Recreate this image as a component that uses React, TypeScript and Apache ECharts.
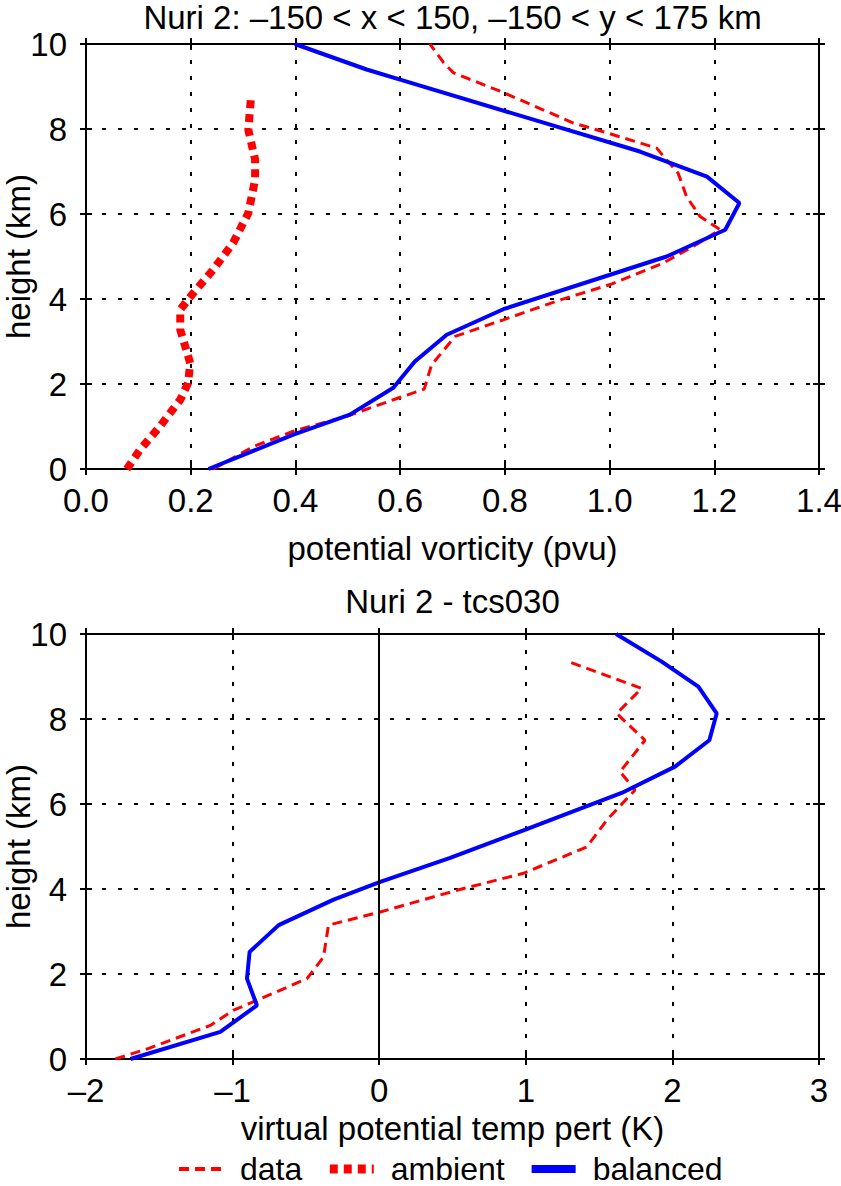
import React, { useEffect, useRef } from 'react';
import * as echarts from 'echarts';

const FONT = '"Liberation Sans", Arial, Helvetica, sans-serif';
const FS = 33;

// ---- Panel 1: potential vorticity (pvu) vs height (km)
const pvDataX = [0.243, 0.32, 0.396, 0.498, 0.587, 0.646, 0.66, 0.705, 0.797, 0.906, 1.001, 1.103, 1.16, 1.211, 1.173, 1.147, 1.131, 1.103, 1.09, 0.995, 0.931, 0.791, 0.702, 0.683, 0.657];
const pvDataH = [0, 0.53, 0.89, 1.24, 1.63, 1.88, 2.45, 3.12, 3.51, 3.98, 4.34, 4.85, 5.24, 5.63, 5.94, 6.41, 6.96, 7.36, 7.55, 7.91, 8.14, 8.89, 9.32, 9.56, 10.0];
const pvAmbX = [0.078, 0.103, 0.141, 0.18, 0.195, 0.199, 0.18, 0.18, 0.205, 0.243, 0.281, 0.31, 0.323, 0.323, 0.31, 0.315];
const pvAmbH = [0, 0.45, 1.0, 1.63, 2.02, 2.49, 3.28, 3.75, 4.14, 4.69, 5.32, 6.02, 6.81, 7.28, 7.98, 8.73];
const pvBalX = [0.234, 0.396, 0.504, 0.587, 0.628, 0.689, 0.797, 1.001, 1.109, 1.221, 1.248, 1.186, 1.058, 0.6, 0.536, 0.399];
const pvBalH = [0, 0.81, 1.28, 1.91, 2.53, 3.16, 3.76, 4.57, 5.0, 5.63, 6.26, 6.88, 7.47, 9.16, 9.4, 10.0];

// ---- Panel 2: virtual potential temp pert (K) vs height (km)
const thDataX = [-1.8, -1.58, -1.152, -0.993, -0.834, -0.493, -0.38, -0.346, 0.007, 0.53, 0.984, 1.416, 1.552, 1.745, 1.643, 1.813, 1.62, 1.79, 1.29];
const thDataH = [0, 0.24, 0.79, 1.15, 1.38, 1.89, 2.4, 3.15, 3.46, 3.97, 4.37, 4.99, 5.62, 6.33, 6.76, 7.5, 8.13, 8.72, 9.35];
const thBalX = [-1.697, -1.084, -0.834, -0.902, -0.884, -0.686, -0.311, 0.007, 0.484, 0.984, 1.256, 1.654, 2.018, 2.252, 2.302, 2.177, 1.927, 1.616];
const thBalH = [0, 0.64, 1.26, 1.89, 2.52, 3.15, 3.75, 4.17, 4.73, 5.38, 5.74, 6.26, 6.88, 7.5, 8.13, 8.76, 9.35, 10.0];

// axis ranges
const pvRange = { min: 0, max: 1.4, interval: 0.2 };
const thRange = { min: -2, max: 3, interval: 1 };
const hRange = { min: 0, max: 10, interval: 2 };

const titles = ['Nuri 2: \u2013150 < x < 150, \u2013150 < y < 175 km', 'Nuri 2 - tcs030'];
const xNames = ['potential vorticity (pvu)', 'virtual potential temp pert (K)'];
const yName = 'height (km)';
const legendNames = ['data', 'ambient', 'balanced'];

const zip = (xs: number[], hs: number[]) => xs.map((x, i) => [x, hs[i]]);
const dashFmt = (v: number) => (v < 0 ? '\u2013' + Math.abs(v) : String(v));

const LINE = { color: '#000', width: 2 };
const GRIDLINE = { color: '#000', width: 2, type: [4, 12] as number[] };

function makeAxes(dim: 'x' | 'y', grid: number, range: any, fmt: any, name: string, nameGap: number) {
  const sides = dim === 'x' ? ['bottom', 'top'] : ['left', 'right'];
  const base: any = {
    type: 'value',
    gridIndex: grid,
    ...range,
    axisLine: { show: true, onZero: false, lineStyle: LINE },
    axisTick: { show: true, length: 6, lineStyle: LINE },
    axisLabel: { show: false },
    splitLine: { show: false },
  };
  return [
    {
      ...base,
      position: sides[0],
      axisLabel: {
        show: true,
        formatter: fmt,
        fontSize: FS,
        color: '#000',
        fontFamily: FONT,
        margin: dim === 'x' ? 15 : 19,
      },
      name,
      nameLocation: 'middle',
      nameGap,
      nameMoveOverlap: false,
      nameTextStyle: { fontSize: FS, color: '#000', fontFamily: FONT },
      splitLine: { show: true, lineStyle: GRIDLINE },
    },
    { ...base, position: sides[0], axisTick: { ...base.axisTick, inside: true } },
    { ...base, position: sides[1] },
    { ...base, position: sides[1], axisTick: { ...base.axisTick, inside: true } },
  ];
}

const App: React.FC = () => {
  const ref = useRef<HTMLDivElement>(null);
  useEffect(() => {
    document.body.style.margin = '0';
    if (!ref.current) return;
    const chart = echarts.init(ref.current, undefined, { renderer: 'svg' });
    const dataStyle = { color: '#ff0000', width: 3, type: [10, 6] as number[], cap: 'butt' as const };
    const ambStyle = { color: '#ff0000', width: 8, type: [8, 6] as number[], cap: 'butt' as const };
    const balStyle = { color: '#0000ff', width: 4, type: 'solid' as const };
    const lineSeries = (name: string, data: number[][], style: any, xi: number, yi: number, extra: any = {}) => ({
      type: 'line',
      name,
      data,
      xAxisIndex: xi,
      yAxisIndex: yi,
      symbol: 'none',
      smooth: false,
      lineStyle: style,
      itemStyle: { color: style.color },
      ...extra,
    });
    chart.setOption({
      animation: false,
      backgroundColor: '#fff',
      grid: [
        { left: 86, top: 44, width: 733, height: 425, containLabel: false, outerBoundsMode: 'none' },
        { left: 86, top: 634, width: 733, height: 425, containLabel: false, outerBoundsMode: 'none' },
      ],
      xAxis: [
        ...makeAxes('x', 0, pvRange, (v: number) => v.toFixed(1), xNames[0], 63),
        ...makeAxes('x', 1, thRange, dashFmt, xNames[1], 53),
      ],
      yAxis: [
        ...makeAxes('y', 0, hRange, (v: number) => String(v), yName, 51),
        ...makeAxes('y', 1, hRange, (v: number) => String(v), yName, 51),
      ],
      legend: {
        left: 177,
        top: 1153,
        padding: 0,
        itemWidth: 44,
        itemHeight: 14,
        itemGap: 23,
        data: [
          { name: legendNames[0], lineStyle: { width: 4 } },
          { name: legendNames[1], lineStyle: { width: 9 } },
          { name: legendNames[2], itemWidth: 56, lineStyle: { width: 8 } },
        ],
        textStyle: { fontSize: 32, lineHeight: 29, color: '#000', fontFamily: FONT, padding: [0, 0, 0, 12] },
        lineStyle: { width: 'inherit' },
        itemStyle: { opacity: 0 },
        selectedMode: false,
      },
      graphic: [
        {
          type: 'text',
          x: 452.5,
          y: 17,
          style: { text: titles[0], fontSize: FS, fontFamily: FONT, fill: '#000', align: 'center', verticalAlign: 'middle' },
        },
        {
          type: 'text',
          x: 452.5,
          y: 601.5,
          style: { text: titles[1], fontSize: FS, fontFamily: FONT, fill: '#000', align: 'center', verticalAlign: 'middle' },
        },
      ],
      series: [
        lineSeries(legendNames[0], zip(pvDataX, pvDataH), dataStyle, 0, 0),
        lineSeries(legendNames[1], zip(pvAmbX, pvAmbH), ambStyle, 0, 0),
        lineSeries(legendNames[2], zip(pvBalX, pvBalH), balStyle, 0, 0),
        lineSeries(legendNames[0], zip(thDataX, thDataH), dataStyle, 4, 4),
        lineSeries(legendNames[2], zip(thBalX, thBalH), balStyle, 4, 4, {
          markLine: {
            silent: true,
            symbol: 'none',
            label: { show: false },
            lineStyle: { color: '#000', width: 2, type: 'solid' },
            data: [{ xAxis: 0 }],
          },
        }),
      ],
    });
    return () => chart.dispose();
  }, []);
  return <div ref={ref} style={{ width: 841, height: 1186 }} />;
};

export default App;
